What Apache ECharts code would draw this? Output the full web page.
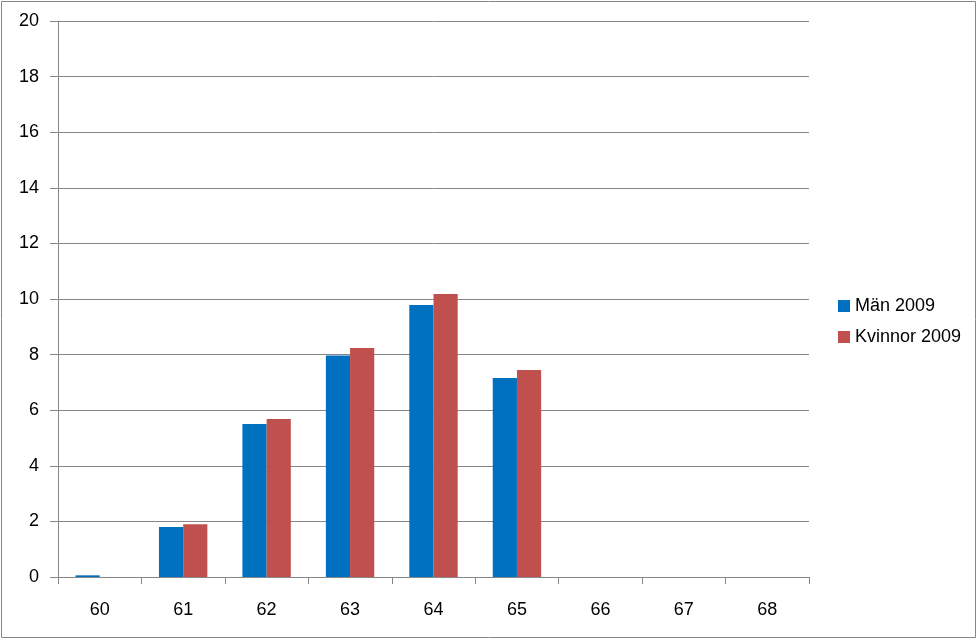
<!DOCTYPE html>
<html><head><meta charset="utf-8">
<script src="https://cdn.jsdelivr.net/npm/echarts@6/dist/echarts.min.js"></script>
<style>html,body{margin:0;padding:0;background:#fff}#c{width:979px;height:640px}</style>
</head><body><div id="c"></div>
<script>
const categories = ['60','61','62','63','64','65','66','67','68'];
const manValues = [0.06, 1.80, 5.50, 7.97, 9.78, 7.16, 0, 0, 0];
const kvinnorValues = [0, 1.90, 5.68, 8.24, 10.18, 7.45, 0, 0, 0];
const seriesNames = ['Män 2009', 'Kvinnor 2009'];
const FONT = '"Liberation Sans", "Open Sans", sans-serif';
const chart = echarts.init(document.getElementById('c'), null, {renderer: 'canvas'});
chart.setOption({
  animation: false,
  backgroundColor: '#fff',
  textStyle: {fontFamily: FONT},
  grid: {left: 58, right: 170, top: 21, bottom: 63, containLabel: false},
  graphic: [{type: 'rect', shape: {x: 1.5, y: 1.5, width: 974, height: 636}, style: {fill: 'none', stroke: '#868686', lineWidth: 1}, silent: true}],
  legend: {
    orient: 'vertical', left: 833, top: 292, itemWidth: 12, itemHeight: 12, itemGap: 13,
    icon: 'rect',
    textStyle: {fontFamily: FONT, fontSize: 18, color: '#000'},
    data: seriesNames
  },
  xAxis: {
    type: 'category', data: categories,
    axisLine: {lineStyle: {color: '#868686'}},
    axisTick: {show: true, length: 7, lineStyle: {color: '#868686'}},
    axisLabel: {color: '#000', fontSize: 18, fontFamily: FONT, margin: 24}
  },
  yAxis: {
    type: 'value', min: 0, max: 20, interval: 2,
    axisLine: {show: true, lineStyle: {color: '#868686'}},
    axisTick: {show: true, length: 8, lineStyle: {color: '#868686'}},
    axisLabel: {color: '#000', fontSize: 18, fontFamily: FONT, margin: 19},
    splitLine: {lineStyle: {color: '#868686', width: 1}}
  },
  series: [
    {name: seriesNames[0], type: 'bar', data: manValues, itemStyle: {color: '#0070C0'}, barGap: '0%', barCategoryGap: '42%'},
    {name: seriesNames[1], type: 'bar', data: kvinnorValues, itemStyle: {color: '#C0504D'}, barGap: '0%', barCategoryGap: '42%'}
  ]
});
</script></body></html>
